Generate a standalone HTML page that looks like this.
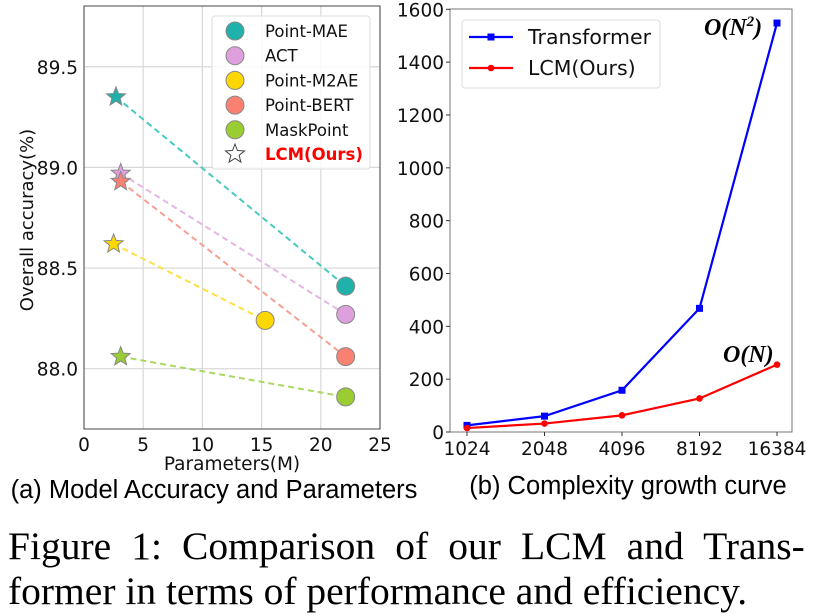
<!DOCTYPE html>
<html><head><meta charset="utf-8">
<style>
body{margin:0;background:#fff;width:825px;height:616px;overflow:hidden}
svg{display:block}
.t{font-family:"DejaVu Sans","Liberation Sans",sans-serif;fill:#111}
.cap{font-family:"Liberation Serif",serif;font-size:39.5px;fill:#000}
</style></head><body>
<svg id="s" width="825" height="616" xmlns="http://www.w3.org/2000/svg"></svg>
<script>
// Left chart data
const leftModels=["Point-MAE","ACT","Point-M2AE","Point-BERT","MaskPoint"];
const leftColors=["#20b2aa","#dda0dd","#ffd700","#fa8072","#9acd32"];
const lineColors=["#48c9c0","#e5b5e5","#ffe040","#f5a090","#aad860"];
const starParams=[2.7,3.1,2.5,3.1,3.1];
const starAcc=[89.35,88.97,88.62,88.93,88.06];
const circParams=[22.1,22.1,15.3,22.1,22.1];
const circAcc=[88.41,88.27,88.24,88.06,87.86];
const leftXTicks=[0,5,10,15,20,25];
const leftYTicks=[88.0,88.5,89.0,89.5];
// Right chart data
const rightCats=["1024","2048","4096","8192","16384"];
const transformerVals=[25,60,158,468,1548];
const lcmVals=[15,32,63,127,255];
const rightYTicks=[0,200,400,600,800,1000,1200,1400,1600];

const S=document.getElementById('s');const NS="http://www.w3.org/2000/svg";
function el(tag,attrs,parent,text){const e=document.createElementNS(NS,tag);for(const k in attrs)e.setAttribute(k,attrs[k]);if(text!==undefined)e.textContent=text;(parent||S).appendChild(e);return e;}
function star(cx,cy,R,r){let p=[];for(let i=0;i<10;i++){const a=-Math.PI/2+i*Math.PI/5;const rr=i%2?r:R;p.push((cx+rr*Math.cos(a)).toFixed(1)+","+(cy+rr*Math.sin(a)).toFixed(1));}return p.join(" ");}

// LEFT
const L={x0:84,x1:380,y0:6,y1:429};
const lx=v=>L.x0+(v-0)/25*(L.x1-L.x0);
const ly=v=>368.7-(v-88)*201.3;
leftXTicks.forEach(t=>{const g=el('line',{x1:lx(t),x2:lx(t),y1:L.y0,y2:L.y1,stroke:'#d8d8d8','stroke-width':1.2});
 const tx=el('text',{x:lx(t),y:L.y1+22,'text-anchor':'middle','font-size':18.5,class:'t'},S,String(t));});
leftYTicks.forEach(t=>{const g=el('line',{x1:L.x0,x2:L.x1,y1:ly(t),y2:ly(t),stroke:'#d8d8d8','stroke-width':1.2});
 const tx=el('text',{x:L.x0-6,y:ly(t)+7,'text-anchor':'end','font-size':18.5,class:'t'},S,t.toFixed(1));});
const lf=el('rect',{x:L.x0,y:L.y0,width:L.x1-L.x0,height:L.y1-L.y0,fill:'none',stroke:'#444','stroke-width':1});
leftModels.forEach((m,i)=>{
 const ln=el('line',{x1:lx(starParams[i]),y1:ly(starAcc[i]),x2:lx(circParams[i]),y2:ly(circAcc[i]),stroke:lineColors[i],'stroke-width':2,'stroke-dasharray':'6,4'});
});
leftModels.forEach((m,i)=>{
 const c=el('circle',{cx:lx(circParams[i]),cy:ly(circAcc[i]),r:9,fill:leftColors[i],stroke:'#888','stroke-width':1});
 const s=el('polygon',{points:star(lx(starParams[i]),ly(starAcc[i]),10,4.3),fill:leftColors[i],stroke:'#888','stroke-width':1});
});
const lg=el('g',{});
el('rect',{x:212,y:16,width:158,height:153,rx:3,fill:'#fff',stroke:'#ddd','fill-opacity':0.85},lg);
leftModels.forEach((m,i)=>{const y=31+i*24.7;el('circle',{cx:235,cy:y,r:9,fill:leftColors[i],stroke:'#888','stroke-width':1},lg);el('text',{x:265,y:y+6,'font-size':16.5,class:'t'},lg,m);});
el('polygon',{points:star(235,154,10,4.3),fill:'#fff',stroke:'#444','stroke-width':1},lg);
el('text',{x:265,y:160,'font-size':16.5,'font-weight':'bold',fill:'#ff0000','font-family':'DejaVu Sans,sans-serif'},lg,'LCM(Ours)');
let t=el('text',{x:33,y:220,'text-anchor':'middle','font-size':18,class:'t',transform:'rotate(-90 33 220)'},S,'Overall accuracy(%)');
t=el('text',{x:232,y:470,'text-anchor':'middle','font-size':18.5,class:'t'},S,'Parameters(M)');
t=el('text',{x:214,y:498,'text-anchor':'middle','font-size':25.5,'font-family':'Liberation Sans,sans-serif'},S,'(a) Model Accuracy and Parameters');

// RIGHT
const R={x0:450,x1:792,y0:9,y1:432};
const rx=i=>467+i*77.5;
const ry=v=>R.y1-v*(R.y1-9.3)/1600;
const rf=el('rect',{x:R.x0,y:R.y0,width:R.x1-R.x0,height:R.y1-R.y0,fill:'none',stroke:'#777','stroke-width':1});
rightYTicks.forEach(v=>{el('line',{x1:R.x0-4,x2:R.x0,y1:ry(v),y2:ry(v),stroke:'#333'});const tx=el('text',{x:R.x0-6,y:ry(v)+7,'text-anchor':'end','font-size':18.5,class:'t'},S,String(v));});
rightCats.forEach((c,i)=>{el('line',{x1:rx(i),x2:rx(i),y1:R.y1,y2:R.y1+4,stroke:'#333'});const tx=el('text',{x:rx(i),y:R.y1+23,'text-anchor':'middle','font-size':18.5,class:'t'},S,c);});
function series(vals,color,name,sq){const p=el('polyline',{points:vals.map((v,i)=>rx(i)+','+ry(v)).join(' '),fill:'none',stroke:color,'stroke-width':2.2});
 vals.forEach((v,i)=>{const m=sq?el('rect',{x:rx(i)-3.5,y:ry(v)-3.5,width:7,height:7,fill:color}):el('circle',{cx:rx(i),cy:ry(v),r:3.3,fill:color});});}
series(transformerVals,'#0000ff','transformer',true);
series(lcmVals,'#ff0000','lcm',false);
const rg=el('g',{});
el('rect',{x:462,y:20,width:198,height:68,rx:3,fill:'#fff',stroke:'#ddd'},rg);
el('line',{x1:469,x2:513,y1:37,y2:37,stroke:'#0000ff','stroke-width':2.2},rg);el('rect',{x:487.5,y:33.5,width:7,height:7,fill:'#0000ff'},rg);
el('text',{x:528,y:44,'font-size':20.5,class:'t'},rg,'Transformer');
el('line',{x1:469,x2:513,y1:68,y2:68,stroke:'#ff0000','stroke-width':2.2},rg);el('circle',{cx:491,cy:68,r:3.3,fill:'#ff0000'},rg);
el('text',{x:528,y:75,'font-size':20.5,class:'t'},rg,'LCM(Ours)');
t=el('text',{x:704,y:35,'font-size':24,'font-family':'Liberation Serif,serif','font-style':'italic','font-weight':'bold'},S);
t.innerHTML='O(N<tspan dy="-9" font-size="15">2</tspan><tspan dy="9">)</tspan>';
t=el('text',{x:723,y:362,'font-size':24,'font-family':'Liberation Serif,serif','font-style':'italic','font-weight':'bold'},S,'O(N)');
t=el('text',{x:628,y:494,'text-anchor':'middle','font-size':25.5,'font-family':'Liberation Sans,sans-serif'},S,'(b) Complexity growth curve');

const c1=el('text',{x:8,y:559,class:'cap'},S,'Figure 1:  Comparison of our LCM and Trans-');
try{const w=c1.getComputedTextLength();const gaps=(c1.textContent.match(/ /g)||[]).length;const ws=(807-w)/gaps;if(ws>0)c1.setAttribute('word-spacing',ws.toFixed(2));}catch(e){}
t=el('text',{x:8,y:604,class:'cap'},S,'former in terms of performance and efficiency.');
</script>
</body></html>
